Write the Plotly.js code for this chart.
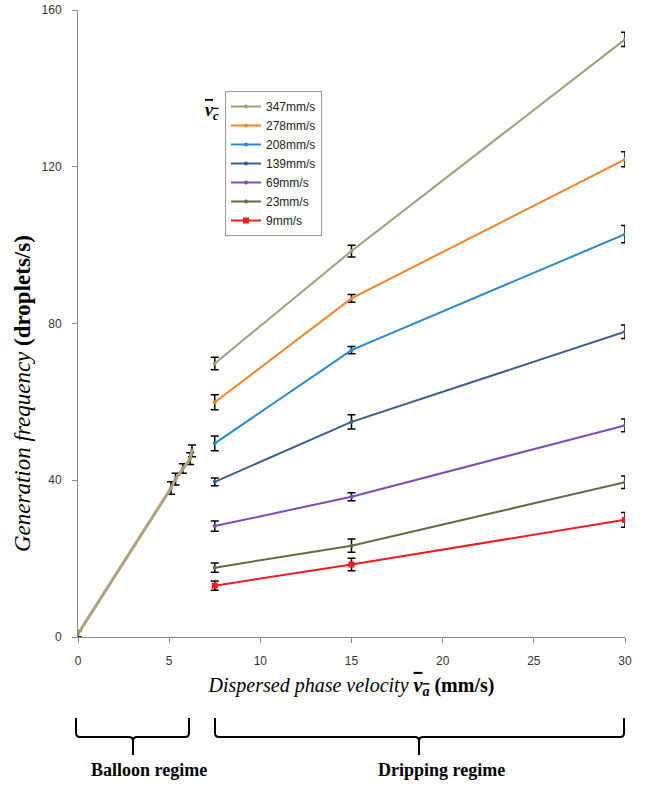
<!DOCTYPE html>
<html>
<head>
<meta charset="utf-8">
<script src="https://cdn.plot.ly/plotly-3.0.1.min.js"></script>
<style>html,body{margin:0;padding:0;background:#fff;}#chart{width:656px;height:785px;}</style>
</head>
<body>
<div id="chart"></div>
<script>
// ---- data ----
const seriesNames = ["347mm/s", "278mm/s", "208mm/s", "139mm/s", "69mm/s", "23mm/s", "9mm/s"];
const xDrip = [7.5, 15, 30];
const f347 = [69.8, 98.5, 152.5];
const e347 = [1.6, 1.5, 1.8];
const f278 = [59.9, 86.4, 121.9];
const e278 = [1.9, 1.0, 1.9];
const f208 = [49.4, 73.2, 102.8];
const e208 = [1.9, 0.9, 2.2];
const f139 = [39.6, 54.9, 77.9];
const e139 = [1.0, 1.8, 1.7];
const f69 = [28.3, 35.8, 54.0];
const e69 = [1.3, 1.0, 1.6];
const f23 = [17.7, 23.3, 39.5];
const e23 = [1.2, 1.7, 1.6];
const f9 = [13.1, 18.5, 29.9];
const e9 = [1.2, 1.6, 1.9];
// balloon regime (all series overlap)
const xBalloon = [0, 5.1, 5.35, 5.75, 6.15, 6.25];
const yBalloon = [0.8, 38.0, 40.3, 43.0, 45.5, 47.5];
const eBalloon = [0.8, 1.6, 1.5, 1.2, 1.5, 1.5];
const xTicks = [0, 5, 10, 15, 20, 25, 30];
const yTicks = [0, 40, 80, 120, 160];

const colors = ["#A09E80", "#EE8530", "#2C88C9", "#3F5E87", "#7D4DB6", "#666B45", "#EE1D25"];
const values = [f347, f278, f208, f139, f69, f23, f9];
const errs = [e347, e278, e208, e139, e69, e23, e9];

// plot area in pixels
const L = 78, T = 10, W = 547, H = 627;
const px = v => (v - L) / W;
const py = v => (T + H - v) / H;

const traces = [];
traces.push({
  x: xBalloon, y: yBalloon, type: 'scatter', mode: 'lines+markers',
  line: {color: '#B0A27C', width: 3}, marker: {size: 4, color: '#A49A72'},
  error_y: {type: 'data', array: eBalloon, visible: true, color: '#000', thickness: 1.5, width: 4},
  showlegend: false, hoverinfo: 'skip'
});
seriesNames.forEach((n, i) => {
  traces.push({
    x: xDrip, y: values[i], name: n, type: 'scatter', mode: 'lines+markers',
    line: {color: colors[i], width: 2},
    marker: {size: i === 6 ? 6 : 4, color: colors[i], symbol: i === 6 ? 'square' : 'circle'},
    error_y: {type: 'data', array: errs[i], visible: true, color: '#000', thickness: 1.5, width: 4}
  });
});

function brace(x0, x1, xm) {
  const yt = 718, yh = 737, yb = 755, r = 4;
  const P = (a, b) => px(a) + ',' + py(b);
  return 'M' + P(x0, yt) + ' L' + P(x0, yh - r) + ' Q' + P(x0, yh) + ' ' + P(x0 + r, yh) +
    ' L' + P(xm - r, yh) + ' Q' + P(xm, yh) + ' ' + P(xm, yh + r) + ' L' + P(xm, yb) +
    ' M' + P(xm, yh + r) + ' Q' + P(xm, yh) + ' ' + P(xm + r, yh) +
    ' L' + P(x1 - r, yh) + ' Q' + P(x1, yh) + ' ' + P(x1, yh - r) + ' L' + P(x1, yt);
}

const serif = 'Liberation Serif, Times New Roman, serif';
const layout = {
  width: 656, height: 785,
  margin: {l: L, r: 656 - L - W, t: T, b: 785 - T - H},
  paper_bgcolor: '#fff', plot_bgcolor: '#fff',
  showlegend: true,
  legend: {
    x: px(225), y: py(91), xanchor: 'left', yanchor: 'top',
    bordercolor: '#999', borderwidth: 1, bgcolor: '#fff',
    font: {family: 'Liberation Sans, Arial, sans-serif', size: 12, color: '#222'},
    itemwidth: 30, tracegroupgap: 0
  },
  xaxis: {
    range: [0, 30], tickvals: xTicks, ticktext: xTicks.map(String),
    showgrid: false, zeroline: false, showline: true, linecolor: '#8a8a8a', linewidth: 1,
    ticks: 'outside', ticklen: 5, tickcolor: '#8a8a8a',
    tickfont: {family: 'Liberation Sans, Arial, sans-serif', size: 12, color: '#333'},
    ticklabelstandoff: 8,
    title: {text: '<i>Dispersed phase velocity </i><b><i><span style="text-decoration:overline">v<sub>a</sub></span></i> (mm/s)</b>',
      font: {family: serif, size: 20, color: '#000'}, standoff: 10}
  },
  yaxis: {
    range: [0, 160], tickvals: yTicks, ticktext: yTicks.map(String),
    showgrid: false, zeroline: false, showline: true, linecolor: '#8a8a8a', linewidth: 1,
    ticks: 'outside', ticklen: 5, tickcolor: '#8a8a8a',
    tickfont: {family: 'Liberation Sans, Arial, sans-serif', size: 12, color: '#333'},
    ticklabelstandoff: 8
  },
  shapes: [
    {type: 'path', xref: 'paper', yref: 'paper', path: brace(76, 189, 133), line: {color: '#000', width: 2}},
    {type: 'path', xref: 'paper', yref: 'paper', path: brace(215, 624, 419), line: {color: '#000', width: 2}}
  ],
  annotations: [
    {xref: 'paper', yref: 'paper', x: px(22), y: py(394), text: '<i>Generation frequency</i> <b>(droplets/s)</b>',
      textangle: -90, showarrow: false, font: {family: serif, size: 23, color: '#000'},
      xanchor: 'center', yanchor: 'middle'},
    {xref: 'paper', yref: 'paper', x: px(149), y: py(770), text: '<b>Balloon regime</b>', showarrow: false,
      font: {family: serif, size: 18, color: '#000'}, xanchor: 'center', yanchor: 'middle'},
    {xref: 'paper', yref: 'paper', x: px(441), y: py(770), text: '<b>Dripping regime</b>', showarrow: false,
      font: {family: serif, size: 18, color: '#000'}, xanchor: 'center', yanchor: 'middle'},
    {xref: 'paper', yref: 'paper', x: px(212), y: py(112), text: '<b><i><span style="text-decoration:overline">v<sub>c</sub></span></i></b>', showarrow: false,
      font: {family: serif, size: 18, color: '#000'}, xanchor: 'center', yanchor: 'middle'}
  ]
};

Plotly.newPlot('chart', traces, layout, {displayModeBar: false, staticPlot: true});
</script>
</body>
</html>
